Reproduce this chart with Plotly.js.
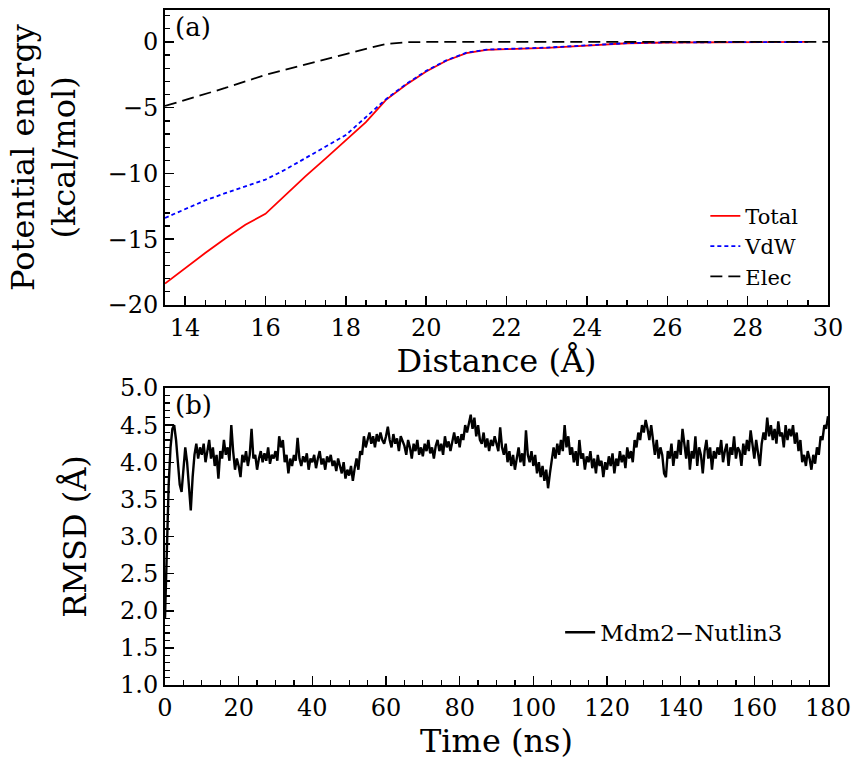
<!DOCTYPE html>
<html>
<head>
<meta charset="utf-8">
<script src="https://cdn.plot.ly/plotly-3.0.1.min.js"></script>
<style>html,body{margin:0;padding:0;background:#fff;}#chart{width:863px;height:767px;}</style>
</head>
<body>
<div id="chart"></div>
<script>
// ---- Panel (a): potential energy vs distance ----
const totalDist = [13.5, 14, 14.5, 15, 15.5, 16, 16.5, 17, 17.5, 18, 18.5, 19, 19.5, 20, 20.5, 21, 21.5, 22, 23, 24, 25, 26, 27, 28, 29, 29.5];
const totalEnergy = [-18.37, -17.2, -16.05, -14.95, -13.9, -13.07, -11.6, -10.2, -8.85, -7.45, -6.1, -4.4, -3.26, -2.25, -1.43, -0.85, -0.6, -0.55, -0.45, -0.28, -0.1, -0.04, -0.02, 0, 0, 0];
const vdwDist = [13.5, 14, 14.5, 15, 15.5, 16, 16.5, 17, 17.5, 18, 18.5, 19, 19.5, 20, 20.5, 21, 21.5, 22, 23, 24, 25, 26, 27, 28, 29, 29.5];
const vdwEnergy = [-13.38, -12.7, -12.05, -11.5, -11.0, -10.47, -9.7, -8.85, -7.95, -7.08, -5.7, -4.35, -3.2, -2.2, -1.4, -0.82, -0.58, -0.53, -0.43, -0.26, -0.09, -0.03, -0.01, 0, 0, 0];
const elecDist = [13.5, 14, 14.5, 15, 15.5, 16, 16.5, 17, 17.5, 18, 18.5, 19, 19.5, 20, 30];
const elecEnergy = [-4.87, -4.42, -3.96, -3.5, -3.0, -2.5, -2.1, -1.72, -1.32, -0.93, -0.52, -0.15, -0.02, 0, 0];

// ---- Panel (b): RMSD vs time, sampled every 0.5 ns from 0 ns ----
const timeStart = 0;
const timeStep = 0.5;
const rmsd = [
  1.9, 2.9, 3.7, 4.2, 4.45, 4.5, 4.3, 4.0, 3.7, 3.6, 3.9, 4.2, 4.0, 3.7, 3.35, 3.8, 4.1, 4.25, 4.05, 4.2,
  4.1, 4.25, 4.0, 4.15, 4.3, 4.05, 4.2, 3.95, 4.1, 3.78, 4.15, 4.05, 4.3, 4.1, 4.2, 4.02, 4.5, 4.15, 3.9, 4.05,
  3.95, 3.8, 4.1, 4.0, 4.15, 3.95, 4.1, 4.45, 4.05, 4.1, 3.9, 4.05, 4.15, 4.0, 4.12, 4.02, 4.2, 3.98, 4.1, 4.05,
  4.15, 4.02, 4.35, 4.2, 4.3, 4.0, 4.1, 3.85, 4.05, 3.95, 4.1, 4.02, 4.33, 4.05, 3.95, 4.08, 4.0, 4.12, 3.9, 4.05,
  4.0, 4.1, 3.92, 4.05, 4.15, 3.97, 4.05, 3.9, 4.08, 4.0, 4.1, 3.95, 4.02, 3.88, 4.05, 3.95, 3.85, 4.0, 3.78, 3.9,
  3.82, 3.95, 3.75, 3.92, 4.05, 3.9, 4.15, 4.1, 4.35, 4.2, 4.3, 4.4, 4.25, 4.35, 4.2, 4.38, 4.28, 4.4, 4.3, 4.25,
  4.35, 4.48, 4.3, 4.2, 4.38, 4.25, 4.32, 4.15, 4.35, 4.28, 4.22, 4.1, 4.3, 4.2, 4.05, 4.25, 4.15, 4.3, 4.1, 4.2,
  4.08, 4.25, 4.15, 4.3, 4.12, 4.2, 4.05, 4.22, 4.3, 4.15, 4.25, 4.1, 4.35, 4.2, 4.28, 4.15, 4.3, 4.4, 4.25, 4.35,
  4.2, 4.38, 4.3, 4.5, 4.4, 4.55, 4.64, 4.45, 4.6, 4.35, 4.5, 4.3, 4.25, 4.4, 4.2, 4.32, 4.15, 4.3, 4.22, 4.35,
  4.25, 4.15, 4.47, 4.2, 4.1, 4.25, 4.0, 4.15, 3.95, 4.1, 3.9, 4.05, 4.2, 4.0, 4.12, 3.95, 4.43, 4.1, 4.0, 4.15,
  3.95, 4.1, 3.85, 4.0, 3.8, 3.95, 3.75, 3.9, 3.65, 3.85, 4.0, 4.2, 4.05, 4.25, 4.1, 4.3, 4.15, 4.5, 4.2, 4.35,
  4.1, 4.2, 4.0, 4.15, 3.95, 4.3, 4.05, 4.12, 3.9, 4.08, 4.0, 4.15, 3.92, 4.05, 3.85, 4.1, 3.95, 4.02, 3.8, 4.0,
  3.9, 4.08, 3.95, 4.12, 3.85, 4.05, 3.95, 4.15, 4.0, 4.1, 3.92, 4.2, 4.05, 4.15, 4.0, 4.3, 4.2, 4.4, 4.3, 4.5,
  4.4, 4.57, 4.45, 4.3, 4.5, 4.25, 4.1, 4.3, 4.05, 4.2, 4.1, 3.85, 3.8, 4.15, 4.05, 4.25, 3.95, 4.15, 4.05, 4.3,
  4.1, 4.45, 4.2, 4.05, 4.3, 3.9, 4.15, 4.05, 4.35, 3.95, 4.2, 4.1, 3.85, 4.15, 4.3, 4.05, 4.2, 3.9, 4.15, 4.05,
  4.2, 4.1, 4.3, 4.0, 4.15, 4.25, 3.95, 4.2, 4.1, 4.35, 4.05, 4.2, 4.15, 3.95, 4.25, 4.1, 4.3, 4.15, 4.43, 4.2,
  4.05, 4.3, 4.15, 3.95, 4.25, 4.4, 4.3, 4.6, 4.35, 4.5, 4.3, 4.45, 4.25, 4.55, 4.35, 4.4, 4.2, 4.5, 4.3, 4.45,
  4.35, 4.5, 4.25, 4.4, 4.15, 4.3, 4.0, 4.1, 3.95, 4.15, 4.05, 3.9, 4.1, 3.98, 4.2, 4.1, 4.35, 4.3, 4.5, 4.45,
  4.62
];

const FONT = '"DejaVu Serif", "Liberation Serif", serif';

const traces = [
  {x: totalDist, y: totalEnergy, type: 'scatter', mode: 'lines', name: 'Total',
   line: {color: '#ff0000', width: 1.8}, xaxis: 'x', yaxis: 'y', legend: 'legend'},
  {x: vdwDist, y: vdwEnergy, type: 'scatter', mode: 'lines', name: 'VdW',
   line: {color: '#0000ff', width: 1.8, dash: '4px,3px'}, xaxis: 'x', yaxis: 'y', legend: 'legend'},
  {x: elecDist, y: elecEnergy, type: 'scatter', mode: 'lines', name: 'Elec',
   line: {color: '#000000', width: 1.8, dash: '12px,6px'}, xaxis: 'x', yaxis: 'y', legend: 'legend'},
  {y: rmsd, x0: timeStart, dx: timeStep, type: 'scatter', mode: 'lines', name: 'Mdm2\u2212Nutlin3',
   line: {color: '#000000', width: 2.4}, xaxis: 'x2', yaxis: 'y2', legend: 'legend2'}
];

function axisBase(extra) {
  return Object.assign({
    showline: true, linecolor: '#000', linewidth: 2, mirror: true,
    ticks: 'inside', ticklen: 9, tickwidth: 1.5, tickcolor: '#000',
    showgrid: false, zeroline: false,
    tickfont: {family: FONT, size: 24, color: '#000'},
    automargin: false
  }, extra);
}
const minor = (d) => ({ticks: 'inside', dtick: d, ticklen: 5, tickwidth: 1.3, tickcolor: '#000', showgrid: false});

const layout = {
  width: 863, height: 767,
  margin: {l: 165, r: 35, t: 10, b: 82},
  paper_bgcolor: '#fff', plot_bgcolor: '#fff',
  font: {family: FONT, color: '#000'},
  showlegend: true,
  xaxis: axisBase({anchor: 'y', domain: [0, 1], range: [13.5, 30], tick0: 14, dtick: 2, minor: minor(0.5),
    title: {text: 'Distance (\u00c5)', font: {family: FONT, size: 32}, standoff: 7}}),
  yaxis: axisBase({anchor: 'x', domain: [0.563, 1], range: [-20, 2.43], tick0: 0, dtick: 5, minor: minor(1),
    title: {text: 'Potential energy<br>(kcal/mol)', font: {family: FONT, size: 32}, standoff: 22}}),
  xaxis2: axisBase({anchor: 'y2', domain: [0, 1], range: [0, 180], tick0: 0, dtick: 20, minor: minor(5),
    title: {text: 'Time (ns)', font: {family: FONT, size: 32}, standoff: 5}}),
  yaxis2: axisBase({anchor: 'x2', domain: [0, 0.44], range: [1, 5], tick0: 1, dtick: 0.5, tickformat: '.1f', minor: minor(0.1),
    title: {text: 'RMSD (\u00c5)', font: {family: FONT, size: 32}, standoff: 24}}),
  legend: {x: 0.815, y: 0.725, xanchor: 'left', yanchor: 'top', bgcolor: 'rgba(0,0,0,0)', borderwidth: 0,
    font: {family: FONT, size: 21, color: '#000'}, tracegroupgap: 0},
  legend2: {x: 0.596, y: 0.11, xanchor: 'left', yanchor: 'top', bgcolor: 'rgba(0,0,0,0)', borderwidth: 0,
    font: {family: FONT, size: 23, color: '#000'}},
  annotations: [
    {text: '(a)', xref: 'x domain', yref: 'y domain', x: 0.012, y: 1.0, xanchor: 'left', yanchor: 'top',
     showarrow: false, font: {family: FONT, size: 26, color: '#000'}},
    {text: '(b)', xref: 'x2 domain', yref: 'y2 domain', x: 0.012, y: 1.0, xanchor: 'left', yanchor: 'top',
     showarrow: false, font: {family: FONT, size: 26, color: '#000'}}
  ]
};

Plotly.newPlot('chart', traces, layout, {displayModeBar: false, staticPlot: true});
</script>
</body>
</html>
